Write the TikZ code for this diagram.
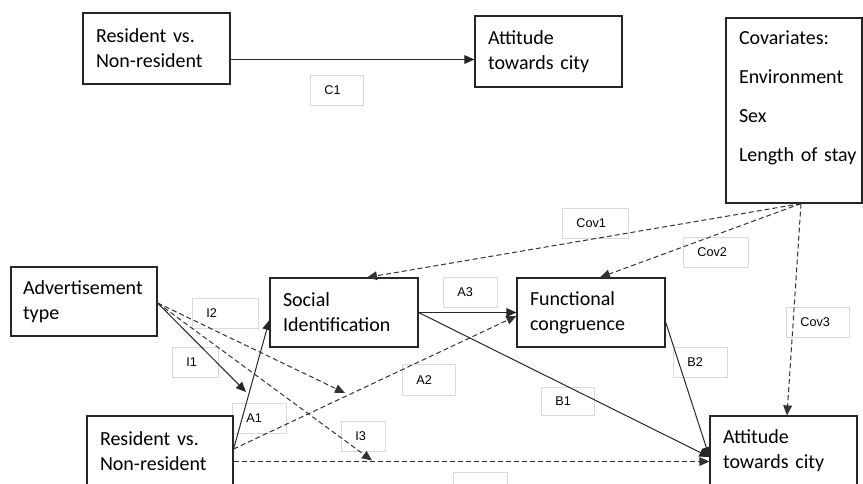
\documentclass[tikz,border=0pt]{standalone}
\usepackage{fontspec}
\setmainfont{Carlito}
\newfontfamily\labelfont{Liberation Sans}
\usetikzlibrary{arrows.meta,calc}
\hyphenpenalty=10000
\exhyphenpenalty=10000
\begin{document}
\begin{tikzpicture}[x=0.75pt,y=-0.75pt,
  box/.style={draw=black!85, line width=0.9pt, fill=white, align=left,
    inner xsep=9.75pt, inner ysep=0pt, font=\fontsize{15}{18.75}\selectfont},
  tag/.style={draw=black!15, line width=0.6pt, anchor=north west, align=left,
    inner xsep=10.5pt, inner ysep=0pt, minimum height=22.5pt,
    font=\labelfont\fontsize{9.5}{10}\selectfont},
  link/.style={draw=black!85, line width=0.75pt, -{Triangle[length=7.5pt,width=6.5pt]}},
  dlink/.style={link, draw=black!80, dash pattern=on 3.75pt off 2.25pt}
]
\useasboundingbox (0,0) rectangle (863,483);
\clip (0,0) rectangle (863,483);

% path labels
\node[tag, text width=18.75pt] (lc1) at (310,75) {C1};
\node[tag, text width=28.5pt] (li2) at (192,298) {I2};
\node[tag, text width=13.5pt] (li1) at (172,347) {I1};
\node[tag, text width=19.5pt] (la1) at (232,403) {A1};
\node[tag, text width=12pt] (li3) at (341,421) {I3};
\node[tag, text width=18.75pt, minimum height=23.25pt] (la2) at (402,364) {A2};
\node[tag, text width=18.75pt, minimum height=21pt] (lb1) at (541,387) {B1};
\node[tag, text width=19.5pt] (lb2) at (673,347) {B2};
\node[tag, text width=19.5pt] (la3) at (443,277) {A3};
\node[tag, text width=28.5pt] (lcov1) at (562,208) {Cov1};
\node[tag, text width=27.75pt] (lcov2) at (683,237) {Cov2};
\node[tag, text width=26.25pt] (lcov3) at (786,307) {Cov3};
\node[tag, text width=19.5pt] (lblank) at (453,472) {};

% variables
\node[box, text width=90.75pt, minimum height=53.25pt] (res1) at (156.5,48.5) {Resident vs.\\Non-resident};
\node[box, text width=90.75pt, minimum height=53.25pt] (att1) at (548.5,51.5) {Attitude\\towards city};
\node[box, text width=82.5pt, minimum height=138.75pt] (cov) at (794,110.5)
  {Covariates:\\[10.5pt]Environment\\[10.5pt]Sex\\[10.5pt]\mbox{Length of stay}\rule[-21pt]{0pt}{21pt}};
\node[box, inner xsep=9pt, text width=91.5pt, minimum height=51.75pt] (ad) at (84,301.5) {Advertisement\\type};
\node[box, text width=91.5pt, minimum height=51.75pt] (soc) at (344,312.5) {Social\\Identification};
\node[box, text width=91.5pt, minimum height=51.75pt] (func) at (591,312.5) {Functional\\congruence};
\node[box, text width=90pt, minimum height=52.5pt] (res2) at (160,451) {Resident vs.\\Non-resident};
\node[box, text width=90.75pt, minimum height=52.5pt] (att2) at (783.5,451) {Attitude\\towards city};

% free ends of the interaction arrows
\coordinate (covsrc) at ([xshift=5.25pt]cov.south);
\coordinate (i1tip) at (246,392);
\coordinate (i2tip) at (345,393);
\coordinate (i3tip) at (372,460.5);

% direct effect
\draw[link] ([yshift=-8.25pt]res1.east) -- ([yshift=-6pt]att1.west);

% covariates
\draw[dlink] (covsrc) -- ([xshift=17.25pt]soc.north);
\draw[dlink] (covsrc) -- ([xshift=6.75pt]func.north);
\draw[dlink] (covsrc) -- ([xshift=2.6pt]att2.north);

% interactions
\draw[link] ([yshift=-1.1pt]ad.east) -- (i1tip);
\draw[dlink] ([yshift=-1.1pt]ad.east) -- (i2tip);
\draw[dlink] ([yshift=-1.1pt]ad.east) -- (i3tip);

% mediation paths
\draw[link] ([yshift=1.5pt]res2.east) -- ([yshift=-5.6pt]soc.west);
\draw[dlink] ([yshift=1.5pt]res2.east) -- ([yshift=-2.6pt]func.west);
\draw[dlink] ([yshift=-7.875pt]res2.east) -- ([yshift=-7.875pt]att2.west);
\draw[link] (soc.east) -- (func.west);
\draw[link] (soc.east) -- ([yshift=-4.5pt]att2.west);
\draw[link] ([yshift=-7.1pt]func.east) -- ([yshift=-4.5pt]att2.west);
\end{tikzpicture}
\end{document}
